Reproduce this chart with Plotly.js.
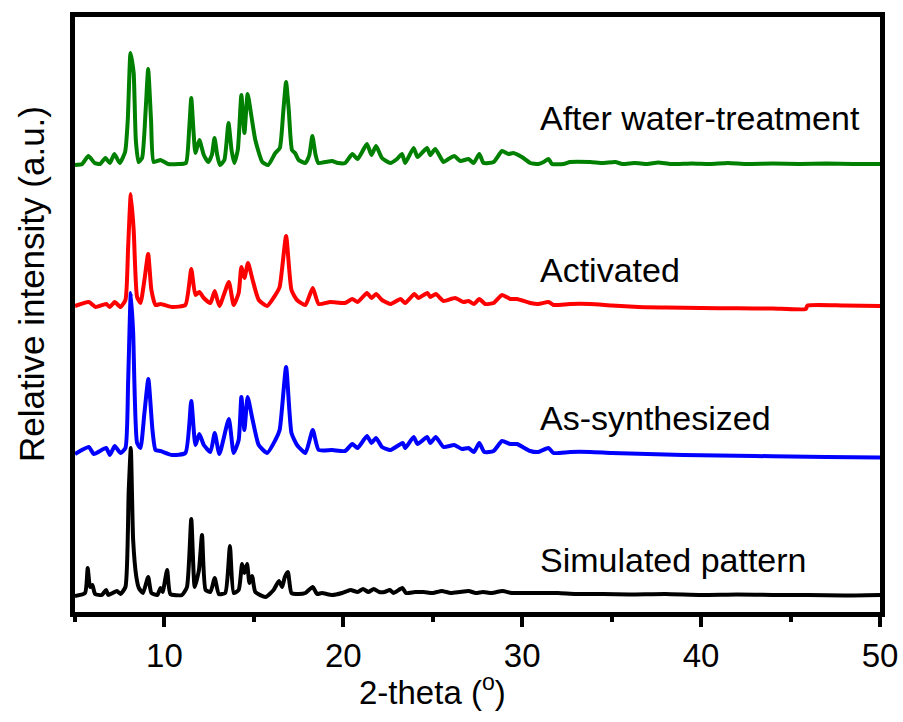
<!DOCTYPE html>
<html>
<head>
<meta charset="utf-8">
<script src="https://cdn.plot.ly/plotly-3.0.1.min.js"></script>
<style>html,body{margin:0;padding:0;background:#fff;}#chart{width:903px;height:722px;}</style>
</head>
<body>
<div id="chart"></div>
<script>
// Series names / labels
const seriesNames = ["Simulated pattern", "As-synthesized", "Activated", "After water-treatment"];
const seriesColors = ["#000000", "#0000FF", "#FF0000", "#008000"];
const xTicks = [10, 20, 30, 40, 50];

// After water-treatment (stacked, arbitrary units)
const xWater = [5.0,5.4,5.75,6.1,6.4,6.7,6.95,7.2,7.5,7.8,7.95,8.1,8.18,8.28,8.4,8.55,8.75,8.95,9.09,9.25,9.4,9.78,10.2,10.8,11.2,11.38,11.5,11.62,11.73,11.95,12.2,12.45,12.65,12.8,12.95,13.1,13.35,13.58,13.75,13.9,14.1,14.3,14.47,14.65,14.85,15.08,15.47,15.8,16.2,16.45,16.65,16.8,16.95,17.13,17.3,17.5,17.88,18.1,18.27,18.45,18.6,19.0,19.37,19.7,20.1,20.5,20.8,21.32,21.57,21.83,22.16,22.63,23.0,23.28,23.46,23.93,24.15,24.68,24.86,25.14,25.6,25.88,26.2,26.54,27.0,27.28,27.6,27.84,28.4,28.87,29.23,29.5,29.98,30.45,30.9,31.2,31.47,31.66,32.3,32.68,33.8,34.5,35.2,35.6,36.3,37.0,37.6,38.3,39.5,40.5,41.5,42.5,44.0,45.5,47.0,48.5,50.0];
const yWater = [447,448,456,449,448,454,449,458,449,460,492,559,552,539,472,450,454,502,543,492,450,452,448,448,449,482,514,482,459,472,457,450,457,474,457,447,452,489,462,449,462,517,479,518,497,472,450,447,459,464,502,530,502,462,459,452,449,457,476,457,449,450,451,449,449,458,453,468,457,466,454,449,453,458,449,464,455,464,457,463,450,453,456,451,453,449,458,449,450,461,458,459,455,449,448,450,453,448,448,450,450,449,450,448,449,448,449.5,448,448.5,448,449,448,448.5,448,448.5,448,448];

// Activated
const xActivated = [5.0,5.77,6.15,6.74,6.95,7.22,7.54,7.82,7.97,8.12,8.28,8.47,8.66,8.88,9.09,9.27,9.5,9.78,10.43,11.17,11.5,11.73,11.95,12.2,12.57,12.81,13.07,13.6,13.87,14.15,14.3,14.47,14.67,14.93,15.27,15.74,16.2,16.44,16.8,17.1,17.41,17.88,18.29,18.62,19.27,20.1,20.5,20.8,21.32,21.57,21.83,22.16,22.63,23.2,23.46,23.97,24.2,24.7,24.86,25.17,25.6,26.25,26.72,27.0,27.3,27.6,27.93,28.4,28.87,29.33,29.7,30.45,30.9,31.47,31.75,32.68,33.8,35.0,36.5,38.0,40.0,42.0,44.0,45.85,45.95,48.0,50.0];
const yActivated = [306,310,305,308,305,310,305,312,365,418,382,315,309,332,358,322,307,308,305,307,343,317,320,314,309,321,306,330,307,319,345,334,349,332,312,306,317,325,376,322,312,307,324,308,310,309,313,310,319,314,318,312,308,313,309,318,314,319,315,318,311,314,310,311,308,313,308,309,317,313,313,309,308,310,307,308,308,306.5,305,304.5,304,303.7,303.5,303,306.5,306.5,306];

// As-synthesized
const xAsSynth = [5.0,5.77,6.05,6.74,6.95,7.22,7.54,7.82,7.97,8.12,8.25,8.47,8.66,8.88,9.1,9.33,9.5,9.78,10.43,11.17,11.5,11.73,11.95,12.2,12.57,12.81,13.07,13.6,13.87,14.15,14.3,14.47,14.65,14.93,15.27,15.74,16.2,16.44,16.8,17.1,17.41,17.88,18.29,18.62,19.37,20.1,20.5,20.8,21.32,21.57,21.83,22.16,22.63,23.2,23.33,23.46,23.93,24.15,24.68,24.86,25.17,25.6,26.2,26.63,27.0,27.3,27.6,27.88,28.4,28.87,29.33,29.7,30.45,30.9,31.47,31.75,32.68,33.8,35.0,37.0,39.0,41.0,43.0,45.0,47.0,50.0];
const yAsSynth = [158,165,158,164,157,166,159,164,230,319,280,169,164,199,233,182,162,161,157,159,211,167,178,167,160,179,158,193,159,172,215,182,215,192,167,159,172,182,245,179,167,159,182,162,162,161,168,164,176,169,174,165,162,168,169,164,175,168,175,169,175,165,167,163,164,160,169,160,161,171,168,168,161,160,164,159,160,160,159,158,157,156.5,156,155.5,155,154.5];

// Simulated pattern
const xSimulated = [5.0,5.56,5.71,5.84,5.97,6.12,6.5,6.74,6.86,7.1,7.34,7.54,7.82,8.0,8.12,8.25,8.43,8.57,8.8,9.09,9.27,9.6,9.78,9.9,10.15,10.33,10.98,11.26,11.5,11.69,11.93,12.1,12.3,12.57,12.81,13.04,13.4,13.66,13.87,14.15,14.34,14.47,14.62,14.75,14.9,15.08,15.65,16.1,16.4,16.58,16.73,16.9,17.1,17.5,17.88,18.29,18.53,18.8,19.37,19.93,20.4,20.8,21.1,21.4,21.7,22.0,22.3,22.6,22.8,23.3,23.5,24.0,24.5,25.0,25.5,26.0,26.5,27.0,27.4,27.8,28.3,28.9,29.4,30.0,31.0,32.0,33.0,34.5,36.0,38.0,40.0,42.0,44.0,46.0,48.0,50.0];
const ySimulated = [16,19,44,25,27,18,17,22,17,19,21,18,25,120,164,72,35,24,19,35,19,17,24,20,42,18,17,25,93,25,42,77,22,20,34,18,19,66,19,22,48,39,48,29,36,20,15,22,31,25,35,40,19,18,19,25,18,19,17,19,22,20,23,20,23,20,20,22,19,24,19,20,20,19,21,19,20,21,19,20,19,21,19,19,19,19,18,18,17.5,18,17,17.5,17,17,16.5,17];

// Label anchor positions (data coords) for series names
const labelX = [30.9, 30.9, 30.9, 30.9];
const labelY = [52, 194, 342, 494];

const xs = [xSimulated, xAsSynth, xActivated, xWater];
const ys = [ySimulated, yAsSynth, yActivated, yWater];

const FONT = "Liberation Sans, Arial, sans-serif";
const traces = xs.map((x, i) => ({
  x: x, y: ys[i], type: "scatter", mode: "lines", name: seriesNames[i],
  line: {color: seriesColors[i], width: 4, shape: "spline", smoothing: 0.5},
  hoverinfo: "skip"
}));

const W = 903, H = 722, mL = 75, mR = 23, mT = 17, mB = 110;
const pw = W - mL - mR, ph = H - mT - mB;

const annotations = seriesNames.map((n, i) => ({
  x: labelX[i], y: labelY[i], xref: "x", yref: "y", text: n, showarrow: false,
  xanchor: "left", yanchor: "middle", font: {family: FONT, size: 34, color: "#000"}
}));
annotations.push({
  x: (432 - mL) / pw, y: 1 - (690 - mT) / ph, xref: "paper", yref: "paper",
  text: "2-theta (<sup>o</sup>)", showarrow: false,
  xanchor: "center", yanchor: "middle", font: {family: FONT, size: 33, color: "#000"}
});
annotations.push({
  x: (31 - mL) / pw, y: 1 - (284 - mT) / ph, xref: "paper", yref: "paper",
  text: "Relative intensity (a.u.)", showarrow: false, textangle: -90,
  xanchor: "center", yanchor: "middle", font: {family: FONT, size: 35, color: "#000"}
});

const layout = {
  width: W, height: H,
  margin: {l: mL, r: mR, t: mT, b: mB, pad: 0},
  paper_bgcolor: "#fff", plot_bgcolor: "#fff",
  showlegend: false,
  font: {family: FONT, size: 33, color: "#000"},
  xaxis: {
    range: [5, 50], tickvals: xTicks, ticks: "outside", ticklen: 10, tickwidth: 4, tickcolor: "#000",
    showline: true, linewidth: 5, linecolor: "#000", mirror: true, showgrid: false, zeroline: false,
    tickfont: {family: FONT, size: 33, color: "#000"},
    minor: {dtick: 5, tick0: 5, ticks: "outside", ticklen: 5, tickwidth: 4, tickcolor: "#000", showgrid: false}
  },
  yaxis: {
    range: [0, 595], showticklabels: false, ticks: "", showline: true, linewidth: 5, linecolor: "#000",
    mirror: true, showgrid: false, zeroline: false
  },
  annotations: annotations
};

Plotly.newPlot("chart", traces, layout, {staticPlot: true, displayModeBar: false});
</script>
</body>
</html>
